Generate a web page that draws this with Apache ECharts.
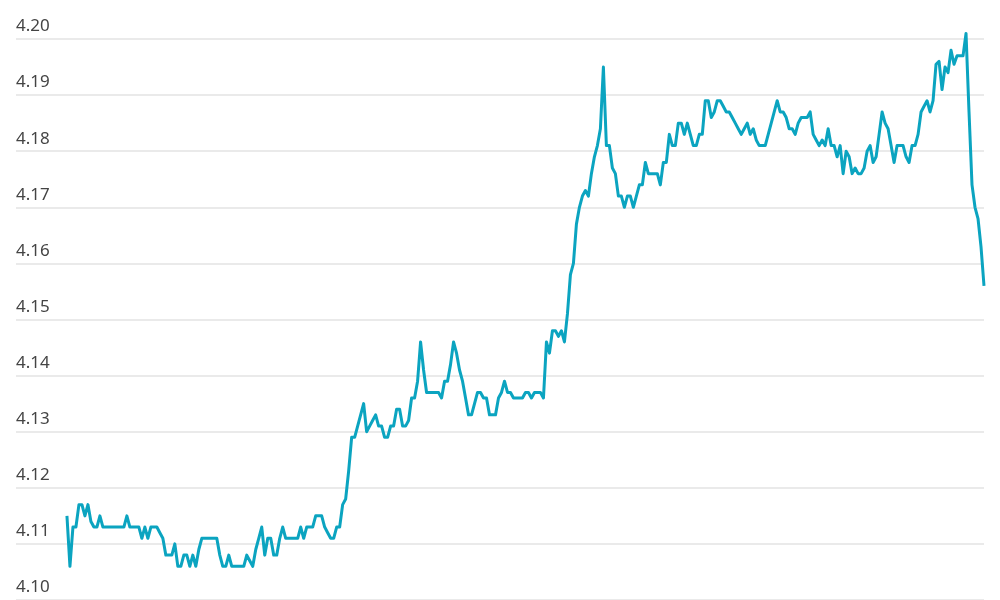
<!DOCTYPE html>
<html>
<head>
<meta charset="utf-8">
<title>Yield</title>
<script src="https://cdn.jsdelivr.net/npm/echarts@6/dist/echarts.min.js"></script>
<style>
	html, body { margin: 0; padding: 0; background: #fff; }
	#chart { width: 1000px; height: 600px; }
</style>
</head>
<body>
<div id="chart"></div>
<script>
	// y axis ticks
	var yTicks = [4.10, 4.11, 4.12, 4.13, 4.14, 4.15, 4.16, 4.17, 4.18, 4.19, 4.20];

	// intraday readings, evenly spaced in time
	var yields = [
		4.115, 4.106, 4.113, 4.113, 4.117, 4.117, 4.115, 4.117, 4.114, 4.113,
		4.113, 4.115, 4.113, 4.113, 4.113, 4.113, 4.113, 4.113, 4.113, 4.113,
		4.115, 4.113, 4.113, 4.113, 4.113, 4.111, 4.113, 4.111, 4.113, 4.113,
		4.113, 4.112, 4.111, 4.108, 4.108, 4.108, 4.110, 4.106, 4.106, 4.108,
		4.108, 4.106, 4.108, 4.106, 4.109, 4.111, 4.111, 4.111, 4.111, 4.111,
		4.111, 4.108, 4.106, 4.106, 4.108, 4.106, 4.106, 4.106, 4.106, 4.106,
		4.108, 4.107, 4.106, 4.109, 4.111, 4.113, 4.108, 4.111, 4.111, 4.108,
		4.108, 4.111, 4.113, 4.111, 4.111, 4.111, 4.111, 4.111, 4.113, 4.111,
		4.113, 4.113, 4.113, 4.115, 4.115, 4.115, 4.113, 4.112, 4.111, 4.111,
		4.113, 4.113, 4.117, 4.118, 4.123, 4.129, 4.129, 4.131, 4.133, 4.135,
		4.130, 4.131, 4.132, 4.133, 4.131, 4.131, 4.129, 4.129, 4.131, 4.131,
		4.134, 4.134, 4.131, 4.131, 4.132, 4.136, 4.136, 4.139, 4.146, 4.141,
		4.137, 4.137, 4.137, 4.137, 4.137, 4.136, 4.139, 4.139, 4.142, 4.146,
		4.144, 4.141, 4.139, 4.136, 4.133, 4.133, 4.135, 4.137, 4.137, 4.136,
		4.136, 4.133, 4.133, 4.133, 4.136, 4.137, 4.139, 4.137, 4.137, 4.136,
		4.136, 4.136, 4.136, 4.137, 4.137, 4.136, 4.137, 4.137, 4.137, 4.136,
		4.146, 4.144, 4.148, 4.148, 4.147, 4.148, 4.146, 4.151, 4.158, 4.160,
		4.167, 4.170, 4.172, 4.173, 4.172, 4.176, 4.179, 4.181, 4.184, 4.195,
		4.181, 4.181, 4.177, 4.176, 4.172, 4.172, 4.170, 4.172, 4.172, 4.170,
		4.172, 4.174, 4.174, 4.178, 4.176, 4.176, 4.176, 4.176, 4.174, 4.178,
		4.178, 4.183, 4.181, 4.181, 4.185, 4.185, 4.183, 4.185, 4.183, 4.181,
		4.181, 4.183, 4.183, 4.189, 4.189, 4.186, 4.187, 4.189, 4.189, 4.188,
		4.187, 4.187, 4.186, 4.185, 4.184, 4.183, 4.184, 4.185, 4.183, 4.184,
		4.182, 4.181, 4.181, 4.181, 4.183, 4.185, 4.187, 4.189, 4.187, 4.187,
		4.186, 4.184, 4.184, 4.183, 4.185, 4.186, 4.186, 4.186, 4.187, 4.183,
		4.182, 4.181, 4.182, 4.181, 4.184, 4.181, 4.181, 4.179, 4.181, 4.176,
		4.180, 4.179, 4.176, 4.177, 4.176, 4.176, 4.177, 4.180, 4.181, 4.178,
		4.179, 4.183, 4.187, 4.185, 4.184, 4.181, 4.178, 4.181, 4.181, 4.181,
		4.179, 4.178, 4.181, 4.181, 4.183, 4.187, 4.188, 4.189, 4.187, 4.189,
		4.1955, 4.196, 4.191, 4.195, 4.194, 4.198, 4.1955, 4.197, 4.197, 4.197,
		4.201, 4.187, 4.174, 4.170, 4.168, 4.163, 4.156
	];

	var lineData = [];
	for (var i = 0; i < yields.length; i++) {
		lineData.push([i, yields[i]]);
	}

	var myChart = echarts.init(document.getElementById('chart'));
	var option = {
		animation: false,
		backgroundColor: '#fff',
		grid: { left: 16, right: 16, top: 39, bottom: -2, containLabel: false },
		xAxis: {
			type: 'value',
			min: -17,
			max: yields.length - 1,
			show: false
		},
		yAxis: {
			type: 'value',
			min: yTicks[0],
			max: yTicks[yTicks.length - 1],
			interval: 0.01,
			axisLine: { show: false },
			axisTick: { show: false },
			splitLine: { lineStyle: { color: '#e3e3e3', width: 1.5 } },
			axisLabel: {
				inside: true,
				margin: 0,
				align: 'left',
				verticalAlign: 'bottom',
				padding: [0, 0, 4, 0],
				color: '#444',
				fontFamily: 'Noto Sans',
				fontSize: 17,
				formatter: function (v) { return v.toFixed(2); }
			}
		},
		series: [{
			type: 'line',
			data: lineData,
			showSymbol: false,
			clip: false,
			lineStyle: { color: '#0ba4c0', width: 3, join: 'round' },
			itemStyle: { color: '#0ba4c0' }
		}]
	};
	myChart.setOption(option);
</script>
</body>
</html>
